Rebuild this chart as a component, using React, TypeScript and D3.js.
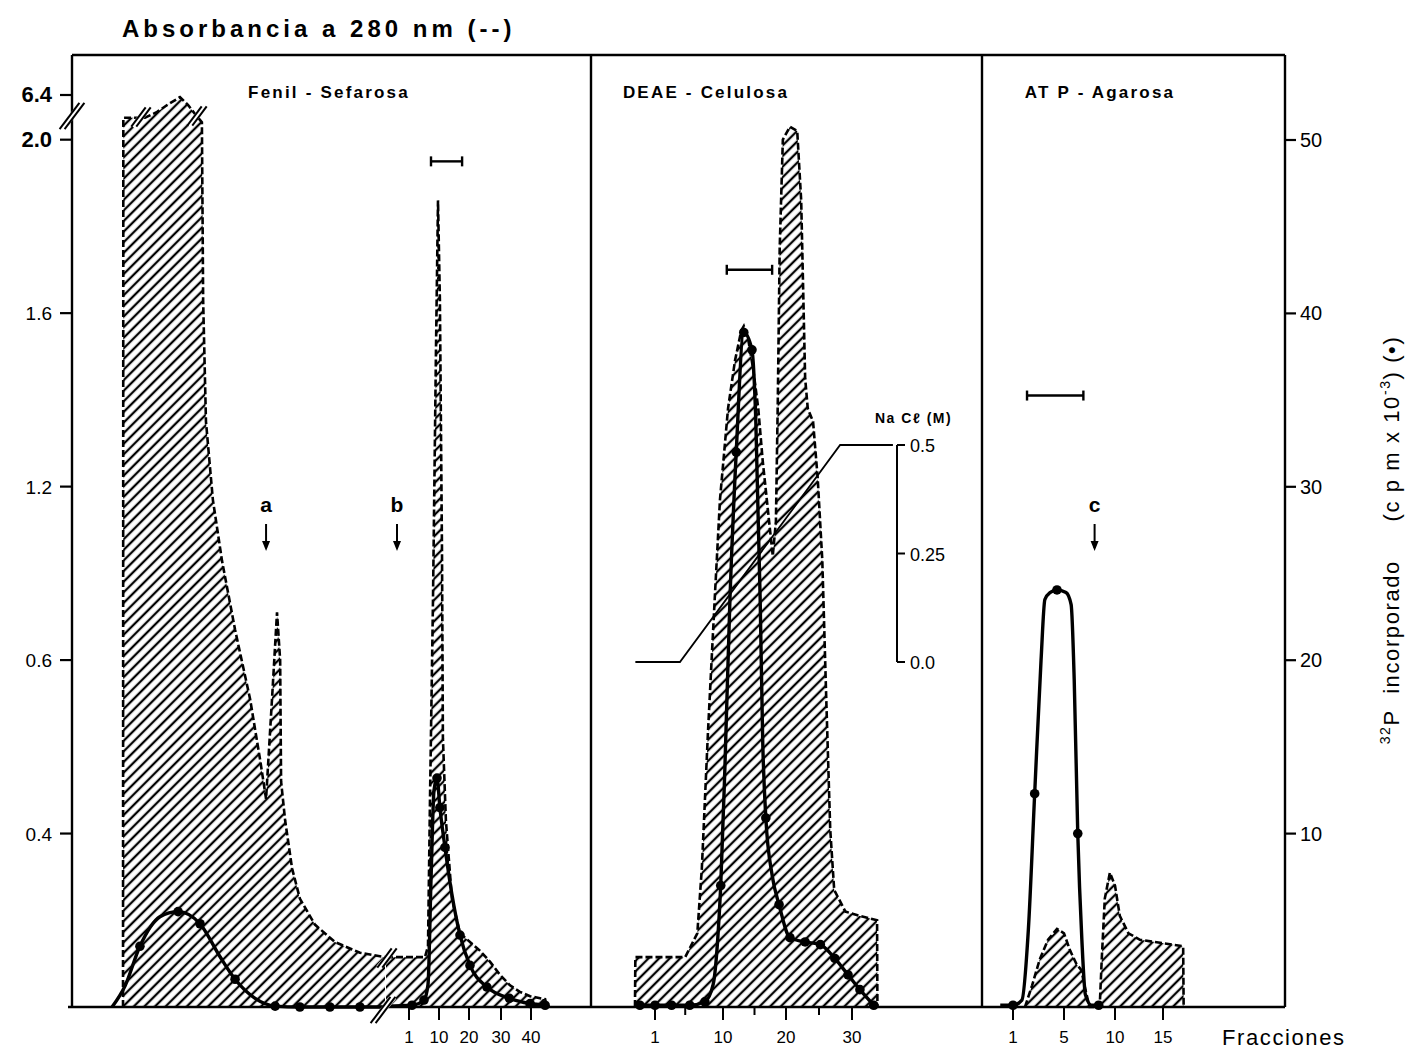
import React from "react";
import * as d3 from "d3";

// ---------------- DATA ----------------
// Left axis: absorbance at 280 nm (printed labels kept as in the original figure)
const absTickValues = [0.4, 0.8, 1.2, 1.6, 2.0, 6.4];
const absTickLabels = ["0.4", "0.6", "1.2", "1.6", "2.0", "6.4"];
// Right axis: 32P incorporated (cpm x 10^-3)
const cpmTickValues = [10, 20, 30, 40, 50];
// NaCl gradient axis
const naclTickValues = [0, 0.25, 0.5];
const naclTickLabels = ["0.0", "0.25", "0.5"];

// Fraction tick labels per panel
const fenilTicks = [1, 10, 20, 30, 40];
const deaeTicks = [1, 10, 20, 30];
const deaeMinorTicks = [5, 15, 25];
const atpTicks = [1, 5, 10, 15];

const panelTitles = ["Fenil - Sefarosa", "DEAE - Celulosa", "AT P - Agarosa"];

// --- Fenil-Sefarosa, unretained part (relative elution volume, no printed scale)
const fenilVolAbsX = [16.3, 16.4, 23.3, 27.2, 30.4, 34.5, 37.1, 39.3, 41.5, 41.9, 42.8, 45.0, 47.9, 52.1, 56.9, 60.1, 62.0, 63.9, 65.5, 66.5, 66.8, 68.1, 70.3, 72.8, 77.6, 84.0, 92.0, 100];
const fenilVolAbs = [0, 2.1, 2.1, 3.2, 4.5, 6.0, 4.5, 2.8, 2.04, 1.63, 1.35, 1.17, 1.03, 0.87, 0.71, 0.57, 0.48, 0.71, 0.91, 0.80, 0.52, 0.43, 0.32, 0.25, 0.19, 0.15, 0.125, 0.115];
const fenilVolCpmX = [12.8, 16.9, 21.7, 28.1, 33.9, 40.9, 47.3, 52.1, 58.5, 64.9, 72.8, 82.4, 92.0, 100];
const fenilVolCpm = [0, 1.2, 3.5, 5.2, 5.5, 4.8, 2.9, 1.6, 0.5, 0.05, 0, 0, 0, 0];
const fenilVolCpmDot = [0, 0, 1, 0, 1, 1, 0, 1, 0, 1, 1, 1, 1, 0];

// --- Fenil-Sefarosa, eluted fractions
const fenilAbsX = [-5.9, 5.8, 6.7, 7.3, 8.2, 9.1, 9.7, 10.3, 11.0, 11.3, 12.3, 14.3, 17.0, 20.3, 23.4, 26.6, 29.7, 33.0, 36.3, 39.7, 44.7, 45.3];
const fenilAbs = [0.115, 0.115, 0.14, 0.48, 0.94, 1.52, 1.86, 1.63, 1.05, 0.62, 0.43, 0.25, 0.17, 0.15, 0.13, 0.104, 0.074, 0.05, 0.035, 0.025, 0.018, 0];
const fenilCpmX = [-5.9, 1.9, 5.5, 6.7, 7.6, 8.5, 9.4, 10.3, 12.0, 14.3, 17.0, 20.3, 25.6, 32.8, 39.7, 44.7];
const fenilCpm = [0.05, 0.1, 0.4, 1.3, 7.3, 12.5, 13.2, 11.5, 9.2, 6.5, 4.15, 2.4, 1.15, 0.5, 0.2, 0.1];
const fenilCpmDot = [0, 1, 1, 0, 0, 0, 1, 1, 1, 0, 1, 1, 1, 1, 1, 1];

// --- DEAE-Celulosa
const deaeAbsX = [-1.65, -1.6, 5.0, 6.6, 7.2, 8.0, 8.9, 9.6, 10.8, 11.9, 12.9, 13.3, 14.0, 14.8, 15.6, 16.3, 17.1, 17.9, 18.4, 18.7, 19.0, 19.5, 20.6, 21.7, 22.3, 22.9, 23.3, 24.1, 24.8, 25.5, 26.1, 26.7, 27.3, 29.0, 31.2, 33.8, 33.85];
const deaeAbs = [0, 0.115, 0.115, 0.17, 0.32, 0.63, 0.94, 1.17, 1.38, 1.49, 1.56, 1.57, 1.54, 1.47, 1.38, 1.26, 1.15, 1.04, 1.12, 1.40, 1.75, 2.0, 2.03, 2.02, 1.86, 1.45, 1.38, 1.35, 1.22, 1.03, 0.71, 0.41, 0.27, 0.22, 0.21, 0.20, 0];
const deaeCpmX = [-1.0, 1.0, 3.2, 5.6, 7.6, 8.7, 9.3, 9.7, 10.3, 11.1, 12.1, 13.3, 14.6, 15.2, 15.9, 16.3, 16.8, 17.8, 18.9, 20.6, 22.9, 25.2, 27.4, 29.4, 31.2, 33.3];
const deaeCpm = [0.1, 0.1, 0.1, 0.1, 0.3, 1.3, 3.9, 7.0, 13.8, 23.5, 32.0, 38.9, 37.9, 33.9, 23.5, 15.4, 10.9, 7.6, 5.9, 4.0, 3.75, 3.6, 2.8, 1.85, 1.0, 0.1];
const deaeCpmDot = [1, 1, 1, 1, 1, 0, 0, 1, 0, 0, 1, 1, 1, 0, 0, 0, 1, 0, 1, 1, 1, 1, 1, 1, 1, 1];
const naclX = [-1.6, 4.3, 28.2, 36.2];
const naclM = [0, 0, 0.5, 0.5];

// --- ATP-Agarosa
const atpAbsX = [1.94, 2.5, 3.1, 3.75, 4.45, 5.0, 5.6, 6.2, 6.7, 7.1, 7.5, 8.5, 8.7, 9.0, 9.5, 10.0, 10.5, 11.4, 12.6, 14.7, 17.1, 17.15];
const atpAbs = [0, 0.05, 0.11, 0.155, 0.18, 0.17, 0.13, 0.10, 0.085, 0.04, 0, 0, 0.11, 0.25, 0.31, 0.28, 0.21, 0.17, 0.155, 0.148, 0.14, 0];
const atpCpmX = [0, 1, 1.7, 2.2, 2.7, 3.2, 3.5, 3.9, 4.45, 5.2, 5.7, 6.0, 6.35, 6.75, 7.1, 7.7, 8.4];
const atpCpm = [0.1, 0.1, 0.4, 4.4, 12.3, 20.0, 23.5, 23.9, 24.05, 23.9, 23.2, 18.9, 10.0, 3.9, 0.7, 0.1, 0.1];
const atpCpmDot = [0, 1, 0, 0, 1, 0, 0, 0, 1, 0, 0, 0, 1, 0, 0, 0, 1];

// Pooled-fraction brackets [from, to, height in absorbance units]
const fenilPool = [7.6, 17.7, 1.95];
const deaePool = [10.6, 17.8, 1.70];
const atpPool = [2.1, 6.9, 1.41];

// Arrows a, b, c (position in panel units)
const arrowA = 62;     // relative volume, Fenil unretained
const arrowB = -2.6;   // fraction, Fenil eluted
const arrowC = 8.0;    // fraction, ATP

// ---------------- SCALES ----------------
const Y0 = 1007;
const TOP = 55;
const XL = 72;
const XR = 1285;
const DIV1 = 591;
const DIV2 = 982;

const yAbs = d3.scaleLinear().domain([0, 2.05, 6.4]).range([Y0, 118, 95]);
const yCpm = d3.scaleLinear().domain([0, 50]).range([Y0, 140]);
const yNaCl = d3.scaleLinear().domain([0, 0.5]).range([662, 445]);
const xVol = d3.scaleLinear().domain([0, 100]).range([72, 385]);
const xFenil = d3.scaleLinear().domain([1, 10, 20, 30, 40]).range([409, 439, 469, 501, 531]);
const xDeae = d3.scaleLinear().domain([1, 10, 20, 30]).range([655, 723, 786, 852]);
const xAtp = d3.scaleLinear().domain([1, 5, 10, 15]).range([1013, 1064, 1115, 1163]);

const FONT = "'Liberation Sans', Arial, Helvetica, sans-serif";
const NB = "\u00A0";

function absArea(xs: number[], ys: number[], xs_: (v: number) => number) {
  return d3
    .area<number>()
    .x((_, i) => xs_(xs[i]))
    .y0(yAbs(0))
    .y1((d) => yAbs(d))
    .curve(d3.curveLinear)(ys) as string;
}
function absLine(xs: number[], ys: number[], xs_: (v: number) => number) {
  return d3
    .line<number>()
    .x((_, i) => xs_(xs[i]))
    .y((d) => yAbs(d))
    .curve(d3.curveLinear)(ys) as string;
}
function cpmLine(xs: number[], ys: number[], xs_: (v: number) => number) {
  return d3
    .line<number>()
    .x((_, i) => xs_(xs[i]))
    .y((d) => yCpm(d))
    .curve(d3.curveMonotoneX)(ys) as string;
}

function Hatched({ xs, ys, sx }: { xs: number[]; ys: number[]; sx: (v: number) => number }) {
  return (
    <g>
      <path d={absArea(xs, ys, sx)} fill="url(#hatch)" stroke="none" />
      <path d={absLine(xs, ys, sx)} fill="none" stroke="#000" strokeWidth={2.6} strokeDasharray="7 3" />
    </g>
  );
}

function Counts({ xs, ys, dots, sx }: { xs: number[]; ys: number[]; dots: number[]; sx: (v: number) => number }) {
  return (
    <g>
      <path d={cpmLine(xs, ys, sx)} fill="none" stroke="#000" strokeWidth={3.4} strokeLinejoin="round" />
      {ys.map((v, i) =>
        dots[i] ? <circle key={i} cx={sx(xs[i])} cy={yCpm(v)} r={4.8} fill="#000" /> : null
      )}
    </g>
  );
}

function Bracket({ spec, sx }: { spec: number[]; sx: (v: number) => number }) {
  const x1 = sx(spec[0]);
  const x2 = sx(spec[1]);
  const y = yAbs(spec[2]);
  return (
    <g stroke="#000" strokeWidth={2.4}>
      <line x1={x1} x2={x2} y1={y} y2={y} />
      <line x1={x1} x2={x1} y1={y - 5} y2={y + 5} />
      <line x1={x2} x2={x2} y1={y - 5} y2={y + 5} />
    </g>
  );
}

function Arrow({ x, label }: { x: number; label: string }) {
  return (
    <g>
      <text x={x} y={512} textAnchor="middle" fontFamily={FONT} fontWeight="bold" fontSize={21}>
        {label}
      </text>
      <line x1={x} x2={x} y1={524} y2={548} stroke="#000" strokeWidth={2} />
      <path d={`M${x - 4},${541} L${x},${551} L${x + 4},${541} Z`} fill="#000" />
    </g>
  );
}

function BreakMark({ x, y, len = 14 }: { x: number; y: number; len?: number }) {
  const dx = len * 0.45;
  const dy = len * 0.6;
  return (
    <g>
      <line x1={x - dx - 1} y1={y + dy} x2={x + dx + 1} y2={y - dy} stroke="#fff" strokeWidth={6} />
      <line x1={x - dx - 2.5} y1={y + dy} x2={x + dx - 2.5} y2={y - dy} stroke="#000" strokeWidth={2} />
      <line x1={x - dx + 2.5} y1={y + dy} x2={x + dx + 2.5} y2={y - dy} stroke="#000" strokeWidth={2} />
    </g>
  );
}

export default function App() {
  const tickLblY = 1043;
  return (
    <svg
      width={1407}
      height={1053}
      viewBox="0 0 1407 1053"
      style={{ position: "absolute", left: 0, top: 0, background: "#fff" }}
    >
      <defs>
        <pattern id="hatch" patternUnits="userSpaceOnUse" width={7.5} height={7.5} patternTransform="rotate(45)">
          <line x1={3.75} y1={-1} x2={3.75} y2={8.5} stroke="#000" strokeWidth={2.3} />
        </pattern>
      </defs>
      <rect x={0} y={0} width={1407} height={1053} fill="#fff" />

      {/* Title */}
      <text x={122} y={37} fontFamily={FONT} fontWeight="bold" fontSize={24} letterSpacing={4}>
        Absorbancia a 280 nm (--)
      </text>

      {/* Absorbance (hatched) */}
      <Hatched xs={fenilVolAbsX} ys={fenilVolAbs} sx={xVol} />
      <Hatched xs={fenilAbsX} ys={fenilAbs} sx={xFenil} />
      <Hatched xs={deaeAbsX} ys={deaeAbs} sx={xDeae} />
      <Hatched xs={atpAbsX} ys={atpAbs} sx={xAtp} />

      {/* Break marks on the off-scale peak */}
      <BreakMark x={141} y={117} len={16} />
      <BreakMark x={197} y={116} len={16} />

      {/* NaCl gradient */}
      <path
        d={
          d3
            .line<number>()
            .x((_, i) => xDeae(naclX[i]))
            .y((d) => yNaCl(d))(naclM) as string
        }
        fill="none"
        stroke="#000"
        strokeWidth={1.8}
      />
      <g stroke="#000" strokeWidth={2}>
        <line x1={897} x2={897} y1={yNaCl(0)} y2={yNaCl(0.5)} />
        {naclTickValues.map((v) => (
          <line key={v} x1={897} x2={905} y1={yNaCl(v)} y2={yNaCl(v)} />
        ))}
      </g>
      {naclTickValues.map((v, i) => (
        <text key={v} x={910} y={yNaCl(v) + 7} fontFamily={FONT} fontSize={18}>
          {naclTickLabels[i]}
        </text>
      ))}
      <text x={875} y={423} fontFamily={FONT} fontWeight="bold" fontSize={14} letterSpacing={1.5}>
        Na Cℓ (M)
      </text>

      {/* 32P counts (solid line with dots) */}
      <Counts xs={fenilVolCpmX} ys={fenilVolCpm} dots={fenilVolCpmDot} sx={xVol} />
      <Counts xs={fenilCpmX} ys={fenilCpm} dots={fenilCpmDot} sx={xFenil} />
      <Counts xs={deaeCpmX} ys={deaeCpm} dots={deaeCpmDot} sx={xDeae} />
      <Counts xs={atpCpmX} ys={atpCpm} dots={atpCpmDot} sx={xAtp} />

      {/* Pool brackets */}
      <Bracket spec={fenilPool} sx={xFenil} />
      <Bracket spec={deaePool} sx={xDeae} />
      <Bracket spec={atpPool} sx={xAtp} />

      {/* Arrows */}
      <Arrow x={xVol(arrowA)} label="a" />
      <Arrow x={xFenil(arrowB)} label="b" />
      <Arrow x={xAtp(arrowC)} label="c" />

      {/* Frame */}
      <g stroke="#000" strokeWidth={2.4} fill="none">
        <line x1={XL} x2={XR} y1={TOP} y2={TOP} />
        <line x1={XL} x2={XL} y1={TOP} y2={Y0} />
        <line x1={XR} x2={XR} y1={TOP} y2={Y0} />
        <line x1={DIV1} x2={DIV1} y1={TOP} y2={Y0} />
        <line x1={DIV2} x2={DIV2} y1={TOP} y2={Y0} />
        <line x1={68} x2={XR} y1={Y0} y2={Y0} />
      </g>

      {/* Break marks on axes */}
      <BreakMark x={72} y={116} len={22} />
      <BreakMark x={383} y={1010} len={22} />
      <BreakMark x={387} y={958} len={16} />

      {/* Left axis ticks */}
      {absTickValues.map((v, i) => (
        <g key={v}>
          <line x1={60} x2={XL} y1={yAbs(v)} y2={yAbs(v)} stroke="#000" strokeWidth={2.2} />
          <text
            x={52}
            y={yAbs(v) + 7}
            textAnchor="end"
            fontFamily={FONT}
            fontSize={v >= 2 ? 22 : 19}
            fontWeight={v >= 2 ? "bold" : "normal"}
          >
            {absTickLabels[i]}
          </text>
        </g>
      ))}

      {/* Right axis ticks */}
      {cpmTickValues.map((v) => (
        <g key={v}>
          <line x1={XR} x2={XR + 11} y1={yCpm(v)} y2={yCpm(v)} stroke="#000" strokeWidth={2.2} />
          <text x={1300} y={yCpm(v) + 7} fontFamily={FONT} fontSize={20}>
            {v}
          </text>
        </g>
      ))}

      {/* Right axis title */}
      <text
        transform={`translate(1399, 540) rotate(-90)`}
        textAnchor="middle"
        fontFamily={FONT}
        fontSize={22}
        letterSpacing={1.6}
      >
        <tspan fontSize={14} dy={-9}>32</tspan>
        <tspan dy={9}>{`P${NB}${NB}incorporado${NB}${NB}${NB}${NB}${NB}(c${NB}p${NB}m${NB}x${NB}10`}</tspan>
        <tspan fontSize={14} dy={-9}>-3</tspan>
        <tspan dy={9}>{`)${NB}(•)`}</tspan>
      </text>

      {/* Bottom ticks */}
      {fenilTicks.map((v) => (
        <g key={"f" + v}>
          <line x1={xFenil(v)} x2={xFenil(v)} y1={Y0} y2={Y0 + 13} stroke="#000" strokeWidth={2} />
          <text x={xFenil(v)} y={tickLblY} textAnchor="middle" fontFamily={FONT} fontSize={17}>
            {v}
          </text>
        </g>
      ))}
      {deaeTicks.map((v) => (
        <g key={"d" + v}>
          <line x1={xDeae(v)} x2={xDeae(v)} y1={Y0} y2={Y0 + 13} stroke="#000" strokeWidth={2} />
          <text x={xDeae(v)} y={tickLblY} textAnchor="middle" fontFamily={FONT} fontSize={17}>
            {v}
          </text>
        </g>
      ))}
      {deaeMinorTicks.map((v) => (
        <line key={"dm" + v} x1={xDeae(v)} x2={xDeae(v)} y1={Y0} y2={Y0 + 8} stroke="#000" strokeWidth={2} />
      ))}
      {atpTicks.map((v) => (
        <g key={"a" + v}>
          <line x1={xAtp(v)} x2={xAtp(v)} y1={Y0} y2={Y0 + 13} stroke="#000" strokeWidth={2} />
          <text x={xAtp(v)} y={tickLblY} textAnchor="middle" fontFamily={FONT} fontSize={17}>
            {v}
          </text>
        </g>
      ))}
      <text x={1222} y={1045} fontFamily={FONT} fontSize={22} letterSpacing={1.6}>
        Fracciones
      </text>

      {/* Panel titles */}
      {panelTitles.map((t, i) => (
        <text
          key={t}
          x={[329, 706, 1100][i]}
          y={98}
          textAnchor="middle"
          fontFamily={FONT}
          fontWeight="bold"
          fontSize={17}
          letterSpacing={2.2}
        >
          {t}
        </text>
      ))}
    </svg>
  );
}
